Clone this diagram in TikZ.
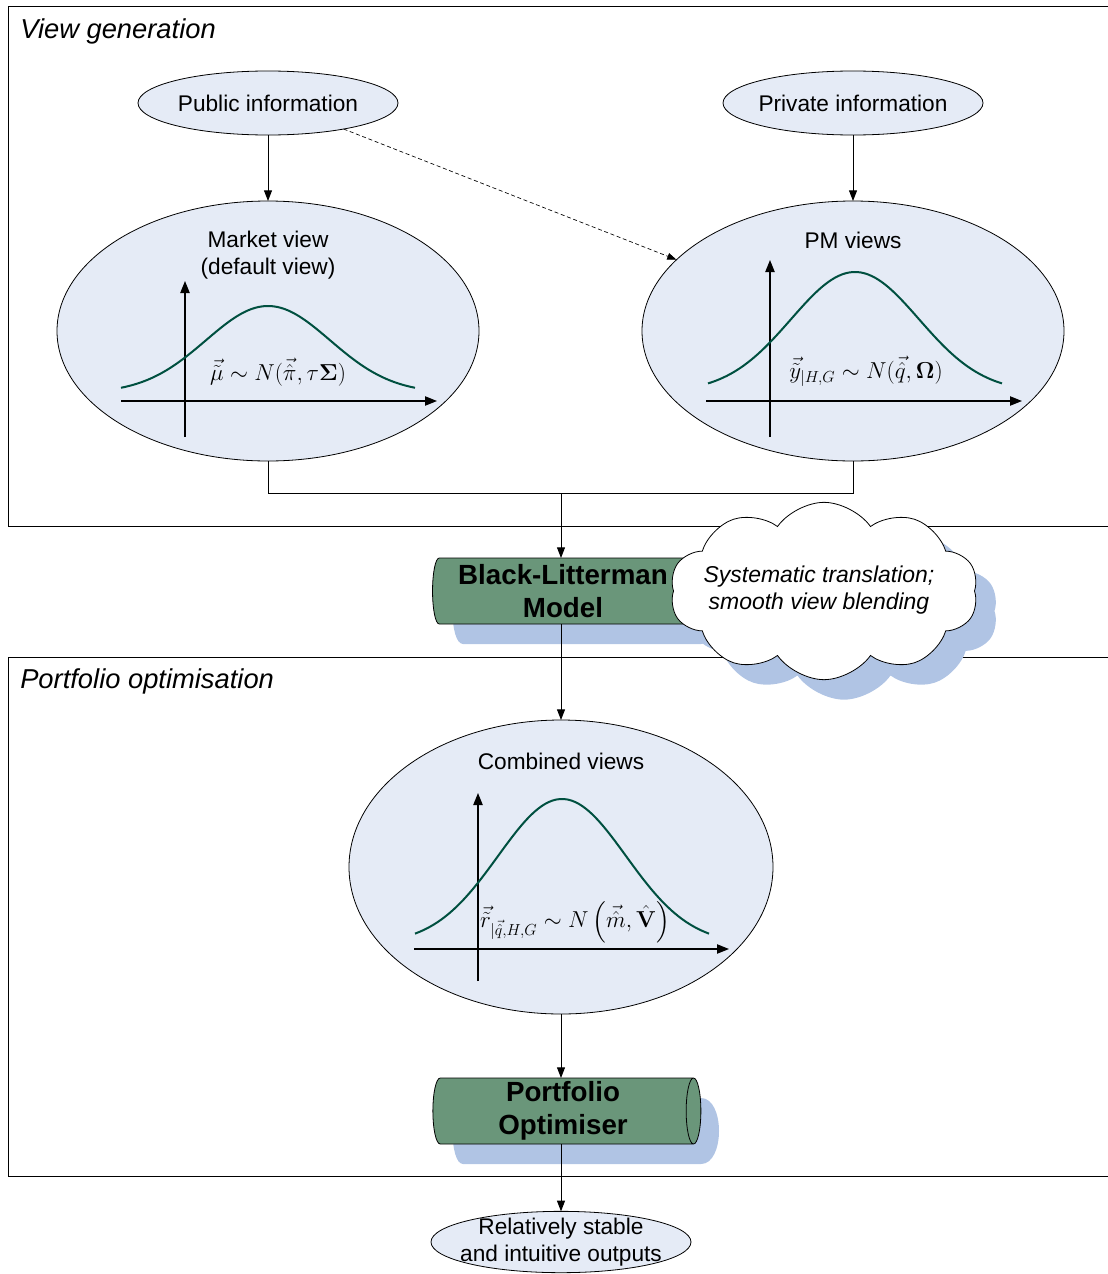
\documentclass[tikz,border=0pt]{standalone}
\usepackage{amsmath}
\usepackage[no-math]{fontspec}
\setmainfont{Liberation Sans}
\usetikzlibrary{shapes.geometric,shapes.symbols,arrows.meta}
\definecolor{ellfill}{RGB}{229,235,246}
\definecolor{shadowc}{RGB}{176,196,228}
\definecolor{curvec}{RGB}{0,80,64}
\definecolor{cylc}{RGB}{106,150,122}
\begin{document}
\begin{tikzpicture}[x=0.75pt,y=-0.75pt,
  view/.style={ellipse, draw=black, line width=0.6pt, fill=ellfill, inner sep=0pt, outer sep=0pt},
  lbl/.style={font=\fontsize{17}{20.25}\selectfont, align=center, inner sep=0pt},
  ttl/.style={font=\fontsize{20.5}{24}\selectfont\itshape, anchor=west, inner sep=0pt},
  frm/.style={font=\fontsize{18.5}{22}\selectfont, inner sep=0pt},
  ln/.style={line width=0.75pt},
  arr/.style={line width=0.75pt, -{Triangle[length=8pt,width=6pt]}},
  dasharr/.style={line width=0.5pt, dashed, dash pattern=on 3pt off 2pt, -{Triangle[length=7pt,width=5pt]}},
  axisarr/.style={line width=0.9pt, -{Triangle[length=9pt,width=7pt]}},
  gauss/.style={curvec, line width=1.5pt},
  cyl/.style={cylinder, draw=black, line width=0.6pt, cylinder uses custom fill,
     cylinder body fill=cylc, cylinder end fill=cylc, shape aspect=0.25,
     minimum width=49.5pt, minimum height=201pt, inner sep=0pt, outer sep=0pt,
     align=center, font=\fontsize{20.8}{24.75}\selectfont\bfseries},
  shadowfill/.style={fill=shadowc, draw=none},
  cloudstyle/.style={cloud, cloud puffs=10, cloud puff arc=110, aspect=1.73,
     minimum width=231pt, minimum height=133pt, inner sep=0pt}
]
\useasboundingbox (0,0) rectangle (1107,1274);

% frames
\draw[ln] (1110,6) -- (8,6) -- (8,526) -- (1110,526);
\draw[ln] (1110,657) -- (8,657) -- (8,1176) -- (1110,1176);
\node[ttl] (t1) at (20,31) {View generation};
\node[ttl] (t2) at (20,681) {Portfolio optimisation};

% top ellipses
\node[view, minimum width=195pt, minimum height=48pt] (pub) at (268,103) {};
\node[lbl] (publ) at (268,103) {Public information};
\node[view, minimum width=195pt, minimum height=48pt] (priv) at (853,103) {};
\node[lbl] (privl) at (853,103) {Private information};

% market view
\node[view, minimum width=316.5pt, minimum height=195pt] (mv) at (268,331) {};
\node[lbl] (mvl) at (268,255) {Market view\\(default view)};
\draw[axisarr] (185,437) -- (185,281);
\draw[axisarr] (121,401) -- (437,401);
\draw[gauss] plot[domain=-147:147, samples=80, smooth] ({268+\x},{393-87*exp(-0.5*(\x/62)*(\x/62))});
\node[frm] (mvf) at (278,372) {$\vec{\tilde{\mu}}\sim N(\vec{\hat{\pi}},\tau\boldsymbol{\Sigma})$};

% PM views
\node[view, minimum width=316.5pt, minimum height=195pt] (pm) at (853,331) {};
\node[lbl] (pml) at (853,240) {PM views};
\draw[axisarr] (770,437) -- (770,260);
\draw[axisarr] (706,401) -- (1022,401);
\draw[gauss] plot[domain=-147:147, samples=80, smooth] ({855+\x},{392-120*exp(-0.5*(\x/64)*(\x/64))});
\node[frm] (pmf) at (866,371) {$\vec{\tilde{y}}_{|H,G}\sim N(\vec{\hat{q}},\boldsymbol{\Omega})$};

% connectors top
\draw[arr] (pub) -- (pub |- pm.north);
\draw[arr] (priv) -- (pm.north);
\draw[dasharr] (pub.-19) -- (pm.158.6);
\draw[ln] (mv.south) -- ++(0,32) -| (pm.south);
\coordinate (bus) at (561,493);

% Black-Litterman cylinder
\fill[shadowfill] (463,578) -- (701,578) .. controls (725,578) and (725,644) .. (701,644)
   -- (463,644) .. controls (449,644) and (449,578) .. (463,578);
\node[cyl] (bl) at (563,591) {Black-Litterman\\Model};

% cloud
\node[cloudstyle, fill=shadowc] (cloudsh) at (844,611) {};
\node[cloudstyle, draw=black, line width=0.6pt, fill=white] (cl) at (824,591) {};
\node[lbl, font=\fontsize{17.2}{20.25}\selectfont\itshape] (cltxt) at (819,590) {Systematic translation;\\smooth view blending};

\draw[arr] (bus) -- (bus |- bl.north);

% Combined views
\node[view, minimum width=318pt, minimum height=220.5pt] (comb) at (561,867) {};
\node[lbl] (combl) at (561,761) {Combined views};
\draw[axisarr] (478,981) -- (478,793);
\draw[axisarr] (414,949) -- (729,949);
\draw[gauss] plot[domain=-147:147, samples=80, smooth] ({562+\x},{944-145*exp(-0.5*(\x/64)*(\x/64))});
\node[frm] (combf) at (575,922) {$\vec{\tilde{r}}_{|\vec{\hat{q}},H,G}\sim N\left(\vec{\hat{m}},\hat{\mathbf{V}}\right)$};

\draw[arr] (comb.north |- bl.south) -- (comb.north);

% Portfolio optimiser
\fill[shadowfill] (463,1098) -- (701,1098) .. controls (725,1098) and (725,1164) .. (701,1164)
   -- (463,1164) .. controls (449,1164) and (449,1098) .. (463,1098);
\node[cyl] (po) at (563,1111) {Portfolio\\Optimiser};
\draw[arr] (comb.south) -- (comb.south |- po.north);

% output
\node[view, minimum width=195pt, minimum height=46pt] (out) at (561,1242) {};
\node[lbl] (outl) at (561,1242) {Relatively stable\\and intuitive outputs};
\draw[arr] (out.north |- po.south) -- (out.north);
\end{tikzpicture}
\end{document}
